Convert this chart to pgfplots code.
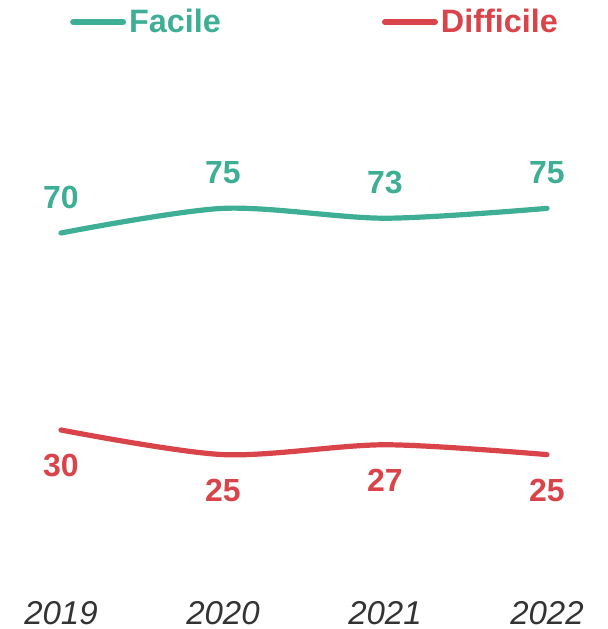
\documentclass[border=0pt]{standalone}
\usepackage{pgfplots}
\pgfplotsset{compat=1.18}
\usepackage{fontspec}
\setmainfont{Liberation Sans}
\definecolor{cGreen}{RGB}{62,174,148}
\definecolor{cRed}{RGB}{217,68,75}
\definecolor{cYear}{RGB}{51,51,51}
\begin{document}
\begin{tikzpicture}
\begin{axis}[
  scale only axis,
  width=304pt, height=314.5pt,
  xmin=-0.3765, xmax=3.3765,
  ymin=-10.41, ymax=117.31,
  axis lines=none,
  clip=false,
  xtick={0,1,2,3},
  xticklabels={2019,2020,2021,2022},
  ytick=\empty,
  major tick length=0pt,
  /pgf/number format/assume math mode=true,
  legend columns=2,
  legend style={draw=none, fill=none, at={(0.519,0.965)}, anchor=center,
    nodes={inner xsep=1.5pt, inner ysep=0pt},
    /tikz/every even column/.append style={column sep=79pt}},
  legend image code/.code={\draw[line width=3pt, line cap=round, #1] (0pt,0pt) -- (25pt,0pt);},
  nodes near coords,
  every node near coord/.append style={font=\fontsize{16}{18}\selectfont\bfseries, anchor=center},
]
\addplot[cGreen, line width=2.6pt, line cap=round, smooth,
  every node near coord/.append style={text=cGreen, yshift=18pt}]
  coordinates {(0,70) (1,75) (2,73) (3,75)};
\addlegendentry{\textcolor{cGreen}{\fontsize{16.2}{18}\selectfont\bfseries Facile}}
\addplot[cRed, line width=2.6pt, line cap=round, smooth,
  every node near coord/.append style={text=cRed, yshift=-18pt}]
  coordinates {(0,30) (1,25) (2,27) (3,25)};
\addlegendentry{\textcolor{cRed}{\fontsize{16.2}{18}\selectfont\bfseries Difficile}}
\end{axis}
\begin{axis}[
  scale only axis,
  width=304pt, height=314.5pt,
  xmin=-0.3765, xmax=3.3765,
  ymin=-10.41, ymax=117.31,
  hide y axis,
  axis x line*=bottom,
  x axis line style={draw=none},
  xtick={0,1,2,3},
  xticklabels={2019,2020,2021,2022},
  major tick length=0pt,
  xticklabel style={anchor=center, yshift=8pt, text=cYear, font=\fontsize{16.5}{18}\selectfont\itshape},
]
\end{axis}
\pgfresetboundingbox
\path[use as bounding box] (0,0) rectangle (304pt,314.5pt);
\end{tikzpicture}
\end{document}
